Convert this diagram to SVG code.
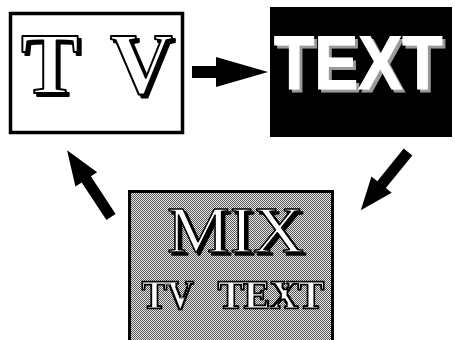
<svg xmlns="http://www.w3.org/2000/svg" width="455" height="340" viewBox="0 0 455 340">
<defs>
<pattern id="dither" width="2" height="2" patternUnits="userSpaceOnUse">
<rect width="2" height="2" fill="#e4e4e4"/>
<rect x="0" y="0" width="1" height="1" fill="#5a5a5a"/>
<rect x="1" y="1" width="1" height="1" fill="#5a5a5a"/>
</pattern>
<filter id="shBlack" x="-10%" y="-10%" width="130%" height="130%">
<feOffset in="SourceAlpha" dx="3" dy="3" result="o"/>
<feMerge><feMergeNode in="o"/><feMergeNode in="SourceGraphic"/></feMerge>
</filter>
<filter id="shGray" x="-10%" y="-10%" width="130%" height="130%">
<feOffset in="SourceAlpha" dx="3" dy="3" result="o"/>
<feFlood flood-color="#9a9a9a" result="c"/>
<feComposite in="c" in2="o" operator="in" result="s"/>
<feMerge><feMergeNode in="s"/><feMergeNode in="SourceGraphic"/></feMerge>
</filter>
<filter id="inline" x="-10%" y="-10%" width="130%" height="130%">
<feMorphology in="SourceAlpha" operator="erode" radius="2" result="e"/>
<feFlood flood-color="#fff" result="w"/>
<feComposite in="w" in2="e" operator="in" result="wi"/>
<feMerge><feMergeNode in="SourceGraphic"/><feMergeNode in="wi"/></feMerge>
</filter>
<path id="arrowH" d="M0,-6 H24 V-15 L76,0 L24,15 V6 H0 Z"/>
</defs>
<style>
.serif{font-family:"Liberation Serif","DejaVu Serif",serif}
.sans{font-family:"Liberation Sans","DejaVu Sans",sans-serif;font-weight:bold}
.outl{fill:#fff;stroke:#000;stroke-linejoin:round}
.arr{fill:#000}
</style>
<rect width="455" height="340" fill="#fff"/>
<g id="tv">
<rect x="10.5" y="13.5" width="172" height="119" fill="#fff" stroke="#000" stroke-width="3.5"/>
<text class="serif outl" font-size="87" font-weight="bold" stroke-width="2" y="93" filter="url(#shBlack)"><tspan x="21">T</tspan> <tspan x="110">V</tspan></text>
</g>
<g id="text">
<rect x="270" y="7" width="182" height="130" fill="#000"/>
<text class="sans" font-size="66" fill="#fff" stroke="#fff" stroke-width="1" x="0" y="0" transform="translate(274,89) scale(1,1.14)" filter="url(#shGray)">TEXT</text>
</g>
<g id="mix">
<rect x="129.5" y="191.5" width="203" height="160" fill="url(#dither)" stroke="#000" stroke-width="3"/>
<text class="serif outl" font-size="66" stroke-width="1.5" x="167" y="252" textLength="137" lengthAdjust="spacingAndGlyphs" filter="url(#shBlack)">MIX</text>
<text class="serif" font-size="40" font-weight="bold" fill="#000" stroke="#000" stroke-width="2.5" y="308" filter="url(#inline)"><tspan x="142" textLength="51" lengthAdjust="spacingAndGlyphs">TV</tspan> <tspan x="218" textLength="106" lengthAdjust="spacingAndGlyphs">TEXT</tspan></text>
</g>
<g id="connectors" class="arr">
<use href="#arrowH" transform="translate(192,72)"/>
<path d="M0,-5.5 H45 V-13 L80,0 L45,13 V5.5 H0 Z" transform="translate(111,217) rotate(236.7)"/>
<path d="M0,-5.5 H42 V-13 L75,0 L42,13 V5.5 H0 Z" transform="translate(408,152) rotate(129)"/>
</g>
</svg>
